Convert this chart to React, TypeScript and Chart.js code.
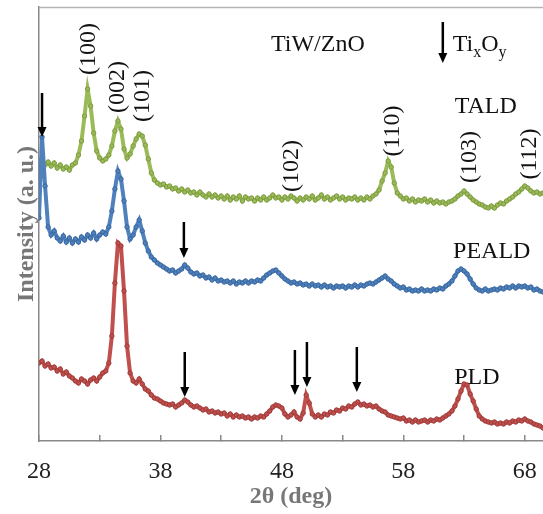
import React, { useEffect, useRef } from 'react';
import { Chart, registerables } from 'chart.js';

Chart.register(...registerables);

// 2θ sampling (deg)
const THETA = [
  28, 28.25, 28.5, 28.75, 29, 29.25, 29.5, 29.75, 30, 30.25,
  30.5, 30.75, 31, 31.25, 31.5, 31.75, 32, 32.25, 32.5, 32.75,
  33, 33.25, 33.5, 33.75, 34, 34.25, 34.5, 34.75, 35, 35.25,
  35.5, 35.75, 36, 36.25, 36.5, 36.75, 37, 37.25, 37.5, 37.75,
  38, 38.25, 38.5, 38.75, 39, 39.25, 39.5, 39.75, 40, 40.25,
  40.5, 40.75, 41, 41.25, 41.5, 41.75, 42, 42.25, 42.5, 42.75,
  43, 43.25, 43.5, 43.75, 44, 44.25, 44.5, 44.75, 45, 45.25,
  45.5, 45.75, 46, 46.25, 46.5, 46.75, 47, 47.25, 47.5, 47.75,
  48, 48.25, 48.5, 48.75, 49, 49.25, 49.5, 49.75, 50, 50.25,
  50.5, 50.75, 51, 51.25, 51.5, 51.75, 52, 52.25, 52.5, 52.75,
  53, 53.25, 53.5, 53.75, 54, 54.25, 54.5, 54.75, 55, 55.25,
  55.5, 55.75, 56, 56.25, 56.5, 56.75, 57, 57.25, 57.5, 57.75,
  58, 58.25, 58.5, 58.75, 59, 59.25, 59.5, 59.75, 60, 60.25,
  60.5, 60.75, 61, 61.25, 61.5, 61.75, 62, 62.25, 62.5, 62.75,
  63, 63.25, 63.5, 63.75, 64, 64.25, 64.5, 64.75, 65, 65.25,
  65.5, 65.75, 66, 66.25, 66.5, 66.75, 67, 67.25, 67.5, 67.75,
  68, 68.25, 68.5, 68.75, 69, 69.25, 69.5,
];

const TALD = [
  279, 282, 276, 279, 275, 278, 273, 276, 272, 274,
  271, 276, 278, 286, 300, 325, 352, 335, 308, 290,
  283, 280, 282, 286, 295, 310, 320, 312, 292, 283,
  287, 295, 302, 307, 305, 296, 282, 268, 261, 258,
  256, 257, 254, 255, 252, 253, 250, 252, 249, 251,
  248, 249, 246, 249, 246, 244, 247, 244, 246, 243,
  245, 242, 245, 241, 244, 242, 245, 240, 244, 242,
  243, 240, 243, 241, 244, 241, 243, 246, 243, 244,
  241, 244, 242, 245, 243, 240, 243, 241, 244, 242,
  245, 241, 243, 246, 242, 244, 241, 243, 245, 242,
  244, 241, 243, 242, 244, 241, 243, 241, 244, 242,
  245, 247, 251, 260, 268, 280, 274, 258, 248, 245,
  242, 243, 240, 242, 239, 241, 240, 242, 239, 241,
  238, 240, 238, 239, 237, 239, 240, 242, 245, 247,
  250, 247, 244, 241, 239, 237, 236, 234, 233, 235,
  233, 236, 238, 237, 240, 242, 244, 247, 249, 252,
  255, 253, 250, 248, 249, 247, 248,
];

const PEALD = [
  223, 304, 255, 214, 206, 210, 203, 200, 205, 199,
  203, 198, 202, 199, 204, 201, 206, 203, 208, 202,
  206, 209, 207, 214, 230, 252, 270, 262, 240, 214,
  202, 206, 214, 221, 210, 198, 190, 184, 181, 178,
  176, 174, 172, 170, 171, 168, 170, 172, 176, 173,
  169, 167, 168, 165, 166, 163, 164, 161, 163, 160,
  161, 159, 160, 158, 160, 157, 159, 158, 160, 158,
  160, 159, 161, 160, 163, 166, 168, 170, 171, 168,
  165, 162, 160, 158, 159, 157, 158, 156, 157, 155,
  157, 155, 156, 154, 156, 154, 155, 153, 155, 154,
  155, 153, 155, 154, 156, 154, 156, 155, 157, 158,
  157, 159, 161, 163, 165, 162, 160, 157, 155, 153,
  154, 151, 152, 150, 151, 150, 152, 150, 151, 150,
  152, 151, 153, 152, 155, 157, 160, 165, 170, 172,
  170, 167, 162, 157, 153, 151, 150, 152, 150, 151,
  152, 151, 153, 152, 154, 153, 155, 153, 155, 154,
  155, 153, 154, 151, 152, 150, 149,
];

const PLD = [
  78, 80, 75, 77, 73, 74, 70, 72, 67, 69,
  65, 63, 60, 58, 62, 60, 57, 61, 63, 60,
  64, 68, 70, 78, 105, 158, 198, 195, 150, 95,
  68, 60, 58, 62, 57, 52, 50, 46, 43, 42,
  40, 38, 37, 36, 37, 34, 36, 38, 41, 39,
  36, 34, 35, 33, 31, 32, 29, 30, 28, 29,
  27, 28, 25, 27, 24, 26, 24, 25, 23, 24,
  22, 24, 23, 25, 24, 27, 30, 34, 36, 35,
  33, 27, 24, 26, 29, 24, 22, 28, 46, 38,
  27, 24, 26, 24, 27, 26, 29, 28, 31, 30,
  33, 32, 35, 34, 37, 39, 36, 37, 35, 36,
  34, 35, 32, 30, 29, 26, 25, 24, 23, 22,
  23, 20, 21, 19, 21, 19, 20, 21, 19, 21,
  20, 22, 21, 23, 25, 27, 30, 35, 42, 50,
  57, 56, 47, 40, 32, 25, 22, 20, 19, 18,
  19, 17, 18, 17, 19, 18, 20, 19, 21, 20,
  22, 20, 19, 17, 16, 15, 13,
];

const X_TICKS = [28, 33, 38, 43, 48, 53, 58, 63, 68];
const X_LABELED = [28, 38, 48, 58, 68];

// Miller-index peak labels (anchor in data coordinates)
const PEAK_LABELS = ['(100)', '(002)', '(101)', '(102)', '(110)', '(103)', '(112)'];
const PEAK_THETA = [32.12, 34.5, 36.56, 48.82, 57.14, 63.47, 68.41];
const PEAK_LEVEL = [392, 354, 345, 275, 310, 284, 287];

// TixOy arrows (theta, tail level, tip level)
const ARROW_THETA = [28.25, 39.93, 40.0, 49.07, 50.06, 54.17];
const ARROW_TAIL = [348, 219, 89, 91, 99, 94];
const ARROW_TIP = [304, 183, 44, 46, 54, 49];

const SERIES_NAMES = ['TALD', 'PEALD', 'PLD'];
const NAME_THETA = [64.79, 65.28, 64.05];
const NAME_LEVEL = [334, 189, 63];

const SAMPLE_TEXT = 'TiW/ZnO';
const SAMPLE_POS = [50.96, 396];
const KEY_ARROW = [61.25, 419, 378];
const KEY_TEXT_POS = [62.07, 396];

const SERIF = "'Liberation Serif', 'Times New Roman', serif";

const annotationPlugin = {
  id: 'xrdAnnotations',
  afterDatasetsDraw(chart: any) {
    const { ctx, chartArea, scales } = chart;
    const xs = scales.x;
    const ys = scales.y;
    ctx.save();

    // top frame line
    ctx.strokeStyle = '#b4b4b4';
    ctx.lineWidth = 1.5;
    ctx.beginPath();
    ctx.moveTo(chartArea.left, chartArea.top + 0.5);
    ctx.lineTo(chartArea.right, chartArea.top + 0.5);
    ctx.stroke();

    const arrow = (x: number, yTail: number, yTip: number) => {
      const head = 10;
      const half = 4.5;
      ctx.strokeStyle = '#000';
      ctx.fillStyle = '#000';
      ctx.lineWidth = 2.5;
      ctx.beginPath();
      ctx.moveTo(x, yTail);
      ctx.lineTo(x, yTip - head + 1);
      ctx.stroke();
      ctx.beginPath();
      ctx.moveTo(x - half, yTip - head);
      ctx.lineTo(x + half, yTip - head);
      ctx.lineTo(x, yTip);
      ctx.closePath();
      ctx.fill();
    };

    ARROW_THETA.forEach((t, i) => {
      arrow(xs.getPixelForValue(t), ys.getPixelForValue(ARROW_TAIL[i]), ys.getPixelForValue(ARROW_TIP[i]));
    });
    arrow(xs.getPixelForValue(KEY_ARROW[0]), ys.getPixelForValue(KEY_ARROW[1]), ys.getPixelForValue(KEY_ARROW[2]));

    ctx.fillStyle = '#111';
    ctx.font = `24px ${SERIF}`;
    ctx.textAlign = 'center';
    ctx.textBaseline = 'middle';

    PEAK_LABELS.forEach((lab, i) => {
      ctx.save();
      ctx.translate(xs.getPixelForValue(PEAK_THETA[i]), ys.getPixelForValue(PEAK_LEVEL[i]));
      ctx.rotate(-Math.PI / 2);
      ctx.fillText(lab, 0, 0);
      ctx.restore();
    });

    SERIES_NAMES.forEach((n, i) => {
      ctx.fillText(n, xs.getPixelForValue(NAME_THETA[i]), ys.getPixelForValue(NAME_LEVEL[i]));
    });

    ctx.fillText(SAMPLE_TEXT, xs.getPixelForValue(SAMPLE_POS[0]), ys.getPixelForValue(SAMPLE_POS[1]));

    // Ti_xO_y
    ctx.textAlign = 'left';
    let cx = xs.getPixelForValue(KEY_TEXT_POS[0]);
    const cy = ys.getPixelForValue(KEY_TEXT_POS[1]);
    const parts: [string, boolean][] = [['Ti', false], ['x', true], ['O', false], ['y', true]];
    parts.forEach(([s, sub]) => {
      ctx.font = sub ? `16px ${SERIF}` : `24px ${SERIF}`;
      ctx.fillText(s, cx, sub ? cy + 8 : cy);
      cx += ctx.measureText(s).width;
    });

    ctx.restore();
  },
};

export default function App() {
  const canvasRef = useRef<HTMLCanvasElement | null>(null);

  useEffect(() => {
    if (!canvasRef.current) return;
    const mk = (vals: number[]) => THETA.map((t, i) => ({ x: t, y: vals[i] }));
    const ds = (label: string, vals: number[], color: string, dark: string) => ({
      label,
      data: mk(vals),
      borderColor: color,
      backgroundColor: color,
      borderWidth: 4,
      pointRadius: 2.2,
      pointBorderWidth: 1,
      pointBackgroundColor: color,
      pointBorderColor: dark,
      tension: 0,
    });
    const chart = new Chart(canvasRef.current, {
      type: 'line',
      data: {
        datasets: [
          ds('PLD', PLD, '#C0504D', '#9e3b39'),
          ds('PEALD', PEALD, '#4F81BD', '#39679f'),
          ds('TALD', TALD, '#9BBB59', '#7c9b40'),
        ],
      },
      options: {
        responsive: false,
        animation: false,
        layout: { autoPadding: false, padding: { top: 7, right: 0, left: 0, bottom: 0 } },
        plugins: { legend: { display: false }, tooltip: { enabled: false } },
        scales: {
          x: {
            type: 'linear',
            min: 28,
            max: 69.5,
            afterBuildTicks: (s: any) => {
              s.ticks = X_TICKS.map((v) => ({ value: v }));
            },
            afterFit: (s: any) => {
              s.height = 73;
              s.paddingLeft = 0;
              s.paddingRight = 0;
            },
            ticks: {
              autoSkip: false,
              maxRotation: 0,
              padding: 22,
              color: '#222',
              font: { family: SERIF, size: 24 },
              callback: (v: any) => (X_LABELED.includes(Number(v)) ? String(v) : ''),
            },
            grid: { display: true, drawOnChartArea: false, drawTicks: true, tickLength: -6, color: '#888', lineWidth: 1.5 },
            border: { display: true, color: '#888', width: 1.5 },
            title: {
              display: true,
              text: '2θ (deg)',
              color: '#777',
              font: { family: SERIF, size: 24, weight: 'bold' },
              padding: { top: 0, bottom: 3 },
            },
          },
          y: {
            type: 'linear',
            min: 0,
            max: 434,
            afterFit: (s: any) => {
              s.width = 39;
              s.paddingTop = 0;
              s.paddingBottom = 0;
            },
            ticks: { display: false },
            grid: { display: false, drawTicks: false },
            border: { display: true, color: '#888', width: 1.5 },
            title: {
              display: true,
              text: 'Intensity (a. u.)',
              color: '#777',
              font: { family: SERIF, size: 24, weight: 'bold' },
              padding: { top: 12, bottom: 0 },
            },
          },
        },
      },
      plugins: [annotationPlugin],
    } as any);
    return () => chart.destroy();
  }, []);

  return (
    <div style={{ position: 'absolute', left: 0, top: 0, width: 543, height: 514, background: '#fff' }}>
      <canvas ref={canvasRef} width={543} height={514} style={{ display: 'block' }} />
    </div>
  );
}
